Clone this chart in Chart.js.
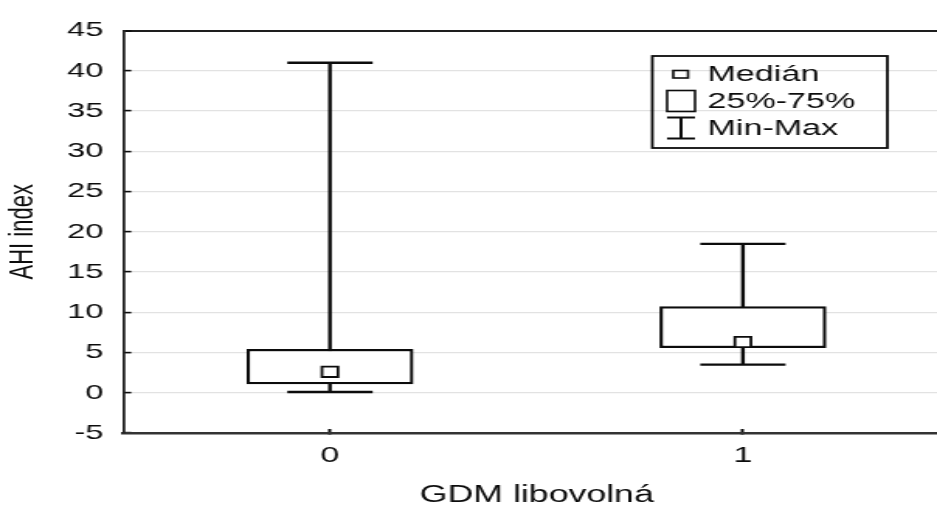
<!DOCTYPE html>
<html>
<head>
<meta charset="utf-8">
<script src="https://cdn.jsdelivr.net/npm/chart.js@4/dist/chart.umd.min.js"></script>
<style>
  html, body { margin: 0; padding: 0; background: #fff; }
  #wrap { width: 937px; height: 507px; }
</style>
</head>
<body>
<div id="wrap"><canvas id="c" width="604" height="507" style="display:block;width:937px;height:507px"></canvas></div>
<script>
// Groups on the x axis (GDM libovolná) and their tick labels
const groupPositions = [0, 1];
const groupLabels = ['0', '1'];

// AHI index summary per group
const minValues = [0.1, 3.5];
const q1Values = [1.1, 5.6];
const medianValues = [2.6, 6.3];
const q3Values = [5.4, 10.7];
const maxValues = [41.0, 18.5];

// Y axis ticks
const yMin = -5;
const yMax = 45;
const yStep = 5;

const ink = '#0c0c0c';
const FONT = "'Liberation Sans', Arial, sans-serif";

// Whiskers (min–max) with end caps, drawn under the boxes
const whiskerPlugin = {
  id: 'whiskers',
  beforeDatasetsDraw(chart) {
    const { ctx, scales: { x, y } } = chart;
    const half = 27.5;
    ctx.save();
    ctx.strokeStyle = ink;
    ctx.lineWidth = 2.4;
    ctx.lineCap = 'butt';
    groupPositions.forEach((g, i) => {
      const cx = x.getPixelForValue(g);
      const yLo = y.getPixelForValue(minValues[i]);
      const yHi = y.getPixelForValue(maxValues[i]);
      ctx.beginPath();
      ctx.moveTo(cx, yLo); ctx.lineTo(cx, yHi);
      ctx.moveTo(cx - half, yLo); ctx.lineTo(cx + half, yLo);
      ctx.moveTo(cx - half, yHi); ctx.lineTo(cx + half, yHi);
      ctx.stroke();
    });
    ctx.restore();
  }
};

// Legend box in the upper right and the x axis title
const legendPlugin = {
  id: 'boxLegend',
  afterDraw(chart) {
    const { ctx } = chart;
    ctx.save();
    // frame
    ctx.strokeStyle = ink;
    ctx.lineWidth = 1.8;
    ctx.strokeRect(420.5, 56, 151.5, 92);
    // median icon
    ctx.lineWidth = 1.6;
    ctx.fillStyle = '#fff';
    ctx.fillRect(434, 70.5, 9.5, 7.5);
    ctx.strokeRect(434, 70.5, 9.5, 7.5);
    // box icon
    ctx.strokeRect(430, 90.5, 18, 21);
    // whisker icon
    ctx.lineWidth = 2;
    ctx.beginPath();
    ctx.moveTo(430, 117.5); ctx.lineTo(448, 117.5);
    ctx.moveTo(439, 117.5); ctx.lineTo(439, 138.5);
    ctx.moveTo(430, 138.5); ctx.lineTo(448, 138.5);
    ctx.stroke();
    // labels
    ctx.fillStyle = ink;
    ctx.font = `22px ${FONT}`;
    ctx.textAlign = 'left';
    ctx.textBaseline = 'middle';
    ctx.fillText('Medián', 456, 75);
    ctx.fillText('25%-75%', 456, 102);
    ctx.fillText('Min-Max', 456, 129);
    // x axis title
    ctx.font = `23px ${FONT}`;
    ctx.textAlign = 'center';
    ctx.fillText('GDM libovolná', 346, 496);
    ctx.restore();
  }
};

const ctx = document.getElementById('c').getContext('2d');
new Chart(ctx, {
  type: 'bar',
  data: {
    datasets: [
      {
        type: 'scatter',
        label: 'Medián',
        data: groupPositions.map((g, i) => ({ x: g, y: medianValues[i] })),
        pointStyle: 'rect',
        pointRadius: 7.3,
        pointHoverRadius: 7.3,
        pointBackgroundColor: '#fff',
        pointBorderColor: ink,
        pointBorderWidth: 1.8,
        order: 0
      },
      {
        label: '25%-75%',
        data: groupPositions.map((g, i) => ({ x: g, y: [q1Values[i], q3Values[i]] })),
        backgroundColor: '#fff',
        borderColor: ink,
        borderWidth: 2.2,
        borderSkipped: false,
        barThickness: 107,
        order: 1
      }
    ]
  },
  options: {
    responsive: false,
    devicePixelRatio: 1,
    animation: false,
    events: [],
    layout: { autoPadding: false, padding: { top: 27, left: 0, right: 0, bottom: 0 } },
    plugins: { legend: { display: false }, tooltip: { enabled: false } },
    scales: {
      x: {
        type: 'linear',
        offset: false,
        min: -0.5,
        max: 1.47,
        afterBuildTicks(scale) { scale.ticks = groupPositions.map(v => ({ value: v })); },
        afterFit(scale) { scale.height = 74; },
        ticks: {
          autoSkip: false,
          maxRotation: 0,
          padding: 14,
          color: ink,
          font: { family: FONT, size: 22 },
          callback(value) { const i = groupPositions.indexOf(value); return i >= 0 ? groupLabels[i] : ''; }
        },
        grid: {
          display: true,
          offset: false,
          drawOnChartArea: false,
          drawTicks: true,
          tickLength: -4,
          tickColor: ink,
          tickWidth: 2
        },
        border: { display: true, color: '#333', width: 2.6 }
      },
      y: {
        min: yMin,
        max: yMax,
        afterFit(scale) { scale.width = 79.6; },
        ticks: {
          stepSize: yStep,
          padding: 18,
          color: ink,
          font: { family: FONT, size: 21 }
        },
        grid: {
          color: c => (c.tick && c.tick.value === yMax ? '#1e1e1e' : '#e2e2e2'),
          lineWidth: c => (c.tick && c.tick.value === yMax ? 2 : 1.2),
          drawTicks: true,
          tickLength: -5,
          tickColor: ink,
          tickWidth: 1.6
        },
        border: { display: true, color: '#222', width: 1.8 },
        title: {
          display: true,
          text: 'AHI index',
          color: ink,
          font: { family: FONT, size: 22 },
          padding: { top: 2, bottom: 0 }
        }
      }
    }
  },
  plugins: [whiskerPlugin, legendPlugin]
});
</script>
</body>
</html>
